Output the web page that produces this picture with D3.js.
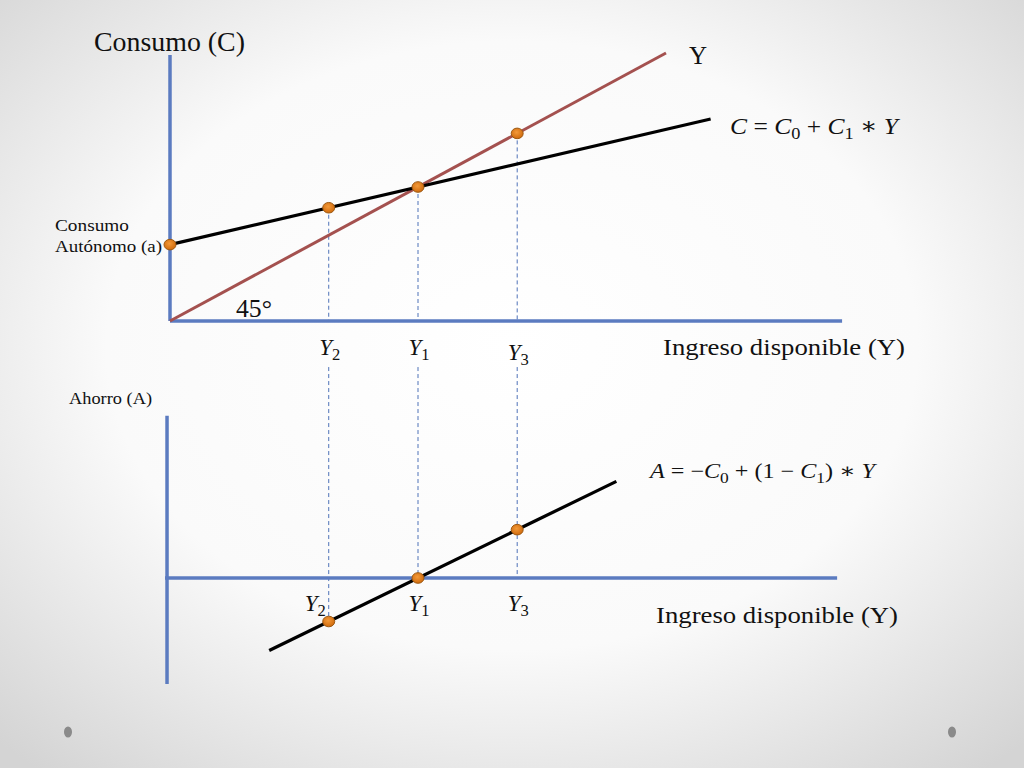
<!DOCTYPE html>
<html><head><meta charset="utf-8">
<script src="https://cdn.jsdelivr.net/npm/d3@7"></script>
<style>html,body{margin:0;padding:0;background:#fff}svg{display:block}</style>
</head><body>
<svg id="c" width="1024" height="768"></svg>
<script>
// ---- data (model units) ----
const C0 = 57;                 // consumo autónomo
const C1 = 0.43;               // propensión marginal a consumir
const incomeNames = ["2", "1", "3"];
const incomeValues = [64, 100, 140];          // Y2, Y1, Y3
const topDotIncome = [0, 64, 100, 140];
const topDotCurve = ["C", "C", "C", "45"];
const line45Range = [0, 200];
const consumptionRange = [0, 218];
const savingRange = [40, 180];
const topAxisXRange = [0, 271];
const topAxisYRange = [0, 198.5];
const botAxisXRange = [-2, 269];
const botAxisYRange = [-50, 76.5];
const botAxisXPos = -1.2;
const dashTopA = 99.5;

const svg = d3.select("#c");
const defs = svg.append("defs");
const rg = defs.append("radialGradient").attr("id","bg").attr("cx","50%").attr("cy","45%").attr("r","72%");
rg.append("stop").attr("offset","0%").attr("stop-color","#ffffff");
rg.append("stop").attr("offset","55%").attr("stop-color","#fafafa");
rg.append("stop").attr("offset","100%").attr("stop-color","#d4d4d4");
svg.append("rect").attr("width",1024).attr("height",768).attr("fill","url(#bg)");
const dg = defs.append("radialGradient").attr("id","dot").attr("cx","45%").attr("cy","40%").attr("r","60%");
dg.append("stop").attr("offset","0%").attr("stop-color","#f39a3a");
dg.append("stop").attr("offset","100%").attr("stop-color","#d06a0c");

const xS = d3.scaleLinear().domain([0,100]).range([170,418]);
const yT = d3.scaleLinear().domain([0,100]).range([321,187]);
const yB = d3.scaleLinear().domain([0,40]).range([578,493.2]);

const cons = y => C0 + C1*y;
const save = y => -C0 + (1-C1)*y;

const AX = "#5b7bc0", DASH = "#4f72b8";
const serif = "'Liberation Serif', 'DejaVu Serif', serif";

// dashed guides
const g = svg.append("g");
incomeValues.forEach((v,i)=>{
  const topVal = i===2 ? v : cons(v);
  g.append("line").attr("x1",xS(v)).attr("x2",xS(v)).attr("y1",yT(topVal)).attr("y2",yT(0))
   .attr("stroke",DASH).attr("stroke-width",1).attr("stroke-dasharray","4,3");
  g.append("line").attr("x1",xS(v)).attr("x2",xS(v)).attr("y1",yB(dashTopA)).attr("y2",yB(Math.min(0,save(v))))
   .attr("stroke",DASH).attr("stroke-width",1).attr("stroke-dasharray","4,3");
});

// axes
const axes = [
  [xS(0), yT(topAxisYRange[0]), xS(0), yT(topAxisYRange[1])],
  [xS(topAxisXRange[0]), yT(0), xS(topAxisXRange[1]), yT(0)],
  [xS(botAxisXPos), yB(botAxisYRange[0]), xS(botAxisXPos), yB(botAxisYRange[1])],
  [xS(botAxisXRange[0]), yB(0), xS(botAxisXRange[1]), yB(0)]
];
svg.selectAll(".ax").data(axes).join("line").attr("class","ax")
  .attr("x1",d=>d[0]).attr("y1",d=>d[1]).attr("x2",d=>d[2]).attr("y2",d=>d[3])
  .attr("stroke",AX).attr("stroke-width",3.5);

// 45° line
svg.append("line").attr("x1",xS(line45Range[0])).attr("y1",yT(line45Range[0]))
  .attr("x2",xS(line45Range[1])).attr("y2",yT(line45Range[1]))
  .attr("stroke","#a4514f").attr("stroke-width",3);
// consumption
svg.append("line").attr("x1",xS(consumptionRange[0])).attr("y1",yT(cons(consumptionRange[0])))
  .attr("x2",xS(consumptionRange[1])).attr("y2",yT(cons(consumptionRange[1])))
  .attr("stroke","#000").attr("stroke-width",3.2);
// saving
svg.append("line").attr("x1",xS(savingRange[0])).attr("y1",yB(save(savingRange[0])))
  .attr("x2",xS(savingRange[1])).attr("y2",yB(save(savingRange[1])))
  .attr("stroke","#000").attr("stroke-width",3.2);

// dots
const dot = (x,y)=> svg.append("ellipse").attr("cx",x).attr("cy",y).attr("rx",6).attr("ry",5.3)
   .attr("fill","url(#dot)").attr("stroke","#9c5a14").attr("stroke-width",1);
topDotIncome.forEach((v,i)=> dot(xS(v), yT(topDotCurve[i]==="C" ? cons(v) : v)));
incomeValues.forEach(v=> dot(xS(v), yB(save(v))));

// text helpers
function txt(x,y,s,size,len){
  const t = svg.append("text").attr("x",x).attr("y",y).attr("font-family",serif)
    .attr("font-size",size).attr("fill","#111").text(s);
  if(len) t.attr("textLength",len).attr("lengthAdjust","spacingAndGlyphs");
  return t;
}
function mathLabel(x,y,sub,size,anchor){
  const t = svg.append("text").attr("x",x).attr("y",y).attr("font-family",serif).attr("font-size",size)
    .attr("fill","#111").attr("text-anchor",anchor||"middle");
  t.append("tspan").attr("font-style","italic").text("Y");
  t.append("tspan").attr("font-size",size*0.72).attr("dy",size*0.22).text(sub);
  return t;
}
function eq(x,y,size,parts,len){
  const t = svg.append("text").attr("x",x).attr("y",y).attr("font-family",serif).attr("font-size",size).attr("fill","#111");
  parts.forEach(p=>{
    const s = t.append("tspan").text(p[0]);
    if(p[1]==="i") s.attr("font-style","italic");
    if(p[1]==="s") s.attr("font-size",size*0.72).attr("dy",size*0.22);
    if(p[2]) s.attr("dy",p[2]);
  });
  if(len) t.attr("textLength",len).attr("lengthAdjust","spacingAndGlyphs");
  return t;
}

txt(94,51,"Consumo (C)",27,151);
txt(689,64,"Y",25);
eq(730,134,24,[["C","i"],[" = ",""],["C","i"],["0","s"],[" + ","",-24*0.22],["C","i"],["1","s"],[" ∗ ","",-24*0.22],["Y","i"]],168);
txt(55,231,"Consumo",17,74);
txt(55,252,"Autónomo (a)",17,107);
txt(236,317,"45°",25,36);

incomeValues.forEach((v,i)=>{
  mathLabel(xS(v)+1, i===2 ? 360 : 355, incomeNames[i], 23);
});
txt(663,355,"Ingreso disponible (Y)",24,242);

txt(69,404,"Ahorro (A)",17,83);
eq(650,478,21,[["A","i"],[" = −",""],["C","i"],["0","s"],[" + (1 − ","",-21*0.22],["C","i"],["1","s"],[") ∗ ","",-21*0.22],["Y","i"]],225);

incomeValues.forEach((v,i)=>{
  if(i===0) mathLabel(xS(v)-3, 611, incomeNames[i], 23, "end");
  else mathLabel(xS(v)+1, 611, incomeNames[i], 23);
});
txt(656,623,"Ingreso disponible (Y)",24,242);

// corner bullets
[68,952].forEach(x=> svg.append("ellipse").attr("cx",x).attr("cy",732).attr("rx",4).attr("ry",5.5).attr("fill","#8a8a8a"));
</script>
</body></html>
